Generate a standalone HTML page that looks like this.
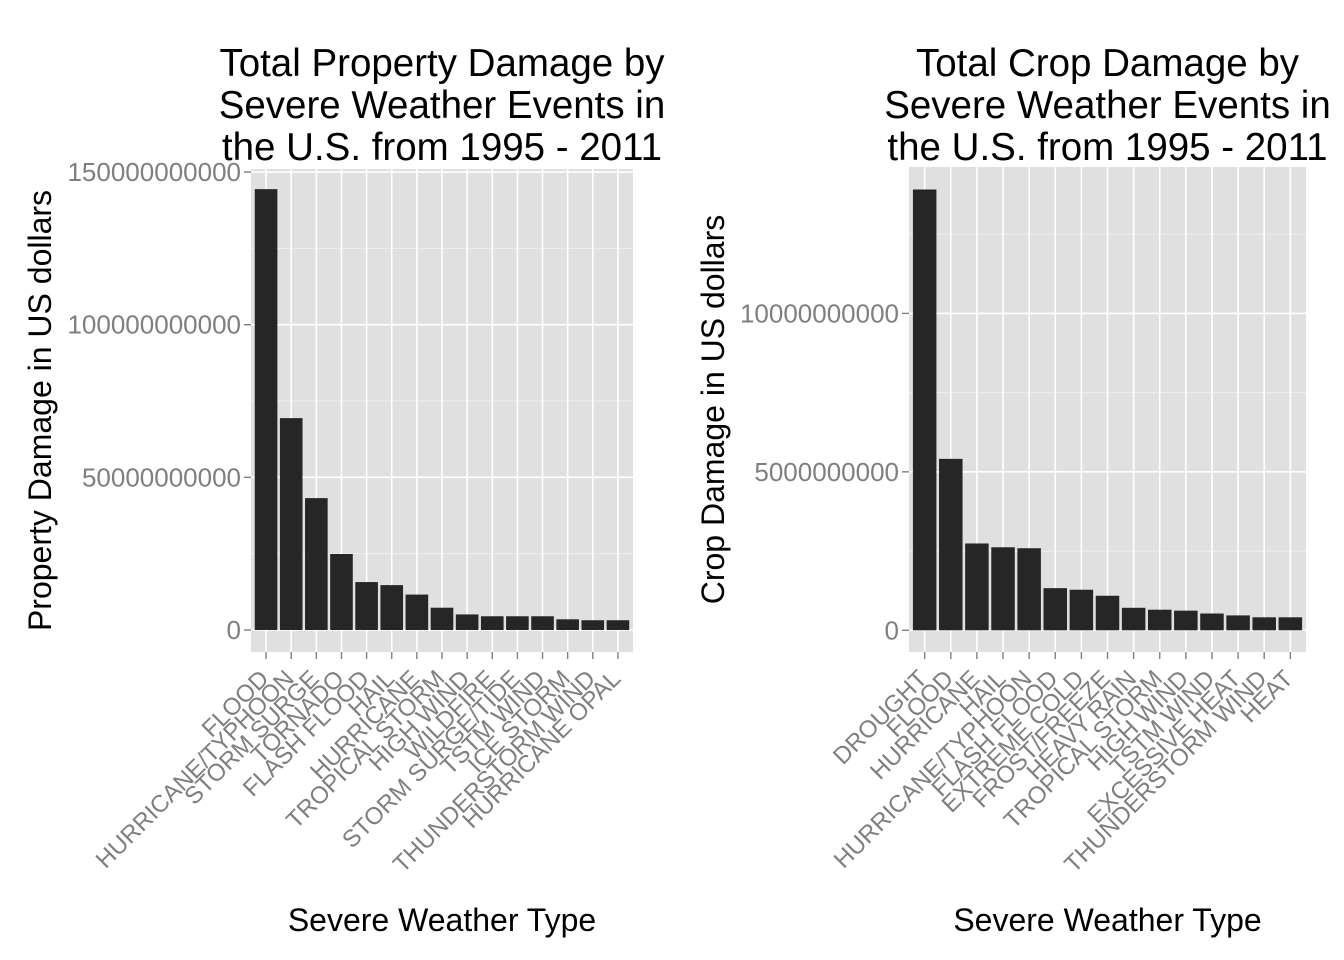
<!DOCTYPE html>
<html><head><meta charset="utf-8"><style>
html,body{margin:0;padding:0;background:#fff;}
svg{display:block;font-family:"Liberation Sans",Arial,sans-serif;}
</style></head><body>
<svg id="chart" width="1344" height="960" viewBox="0 0 1344 960"></svg>
<script>
const propCategories = ["FLOOD","HURRICANE/TYPHOON","STORM SURGE","TORNADO","FLASH FLOOD","HAIL","HURRICANE","TROPICAL STORM","HIGH WIND","WILDFIRE","STORM SURGE/TIDE","TSTM WIND","ICE STORM","THUNDERSTORM WIND","HURRICANE OPAL"];
const propValues = [144.4e9,69.4e9,43.2e9,24.9e9,15.7e9,14.7e9,11.6e9,7.3e9,5.1e9,4.5e9,4.5e9,4.5e9,3.5e9,3.2e9,3.2e9];
const propTicks = [0,50e9,100e9,150e9];
const propTickLabels = ["0","50000000000","100000000000","150000000000"];
const cropCategories = ["DROUGHT","FLOOD","HURRICANE","HAIL","HURRICANE/TYPHOON","FLASH FLOOD","EXTREME COLD","FROST/FREEZE","HEAVY RAIN","TROPICAL STORM","HIGH WIND","TSTM WIND","EXCESSIVE HEAT","THUNDERSTORM WIND","HEAT"];
const cropValues = [13.91e9,5.41e9,2.74e9,2.62e9,2.59e9,1.33e9,1.28e9,1.09e9,0.71e9,0.65e9,0.62e9,0.53e9,0.47e9,0.41e9,0.41e9];
const cropTicks = [0,5e9,10e9];
const cropTickLabels = ["0","5000000000","10000000000"];

const NS="http://www.w3.org/2000/svg";
const svg=document.getElementById('chart');
function mk(tag,attrs,parent){const e=document.createElementNS(NS,tag);for(const k in attrs)e.setAttribute(k,attrs[k]);(parent||svg).appendChild(e);return e;}

function panel(o){
  const g=mk('g',{});
  
  
  const n=o.cats.length;
  const step=(o.x1-o.x0)/(n-1+1.2);
  const xc=i=>o.x0+step*(0.6+i);
  const y=v=>o.yZero-(v/o.yMax)*(o.yZero-o.y0);
  const bg=mk('rect',{x:o.x0,y:o.y0,width:o.x1-o.x0,height:o.yB-o.y0,fill:'#e0e0e0'},g);
  
  
  for(let k=0;k<o.ticks.length;k++){
    const mv=o.ticks[k]+o.tickStep/2;
    if(y(mv)>o.y0) mk('line',{x1:o.x0,x2:o.x1,y1:y(mv),y2:y(mv),stroke:'#f0f0f0','stroke-width':1},g);
  }
  o.ticks.forEach((t,i)=>{
    mk('line',{x1:o.x0,x2:o.x1,y1:y(t),y2:y(t),stroke:'#fff','stroke-width':1.6},g);
    mk('line',{x1:o.x0-7,x2:o.x0,y1:y(t),y2:y(t),stroke:'#7f7f7f','stroke-width':1.4},g);
    const tx=mk('text',{x:o.x0-10,y:y(t)+9,'text-anchor':'end','font-size':26,fill:'#7f7f7f'},g);
    tx.textContent=o.tickLabels[i];
    
    
  });
  o.cats.forEach((c,i)=>{
    mk('line',{x1:xc(i),x2:xc(i),y1:o.y0,y2:o.yB,stroke:'#fff','stroke-width':1.6},g);
  });
  const bw=step*0.9;
  o.cats.forEach((c,i)=>{
    const b=mk('rect',{x:xc(i)-bw/2,y:y(o.vals[i]),width:bw,height:y(0)-y(o.vals[i]),fill:'#262626'},g);
    
    
    mk('line',{x1:xc(i),x2:xc(i),y1:o.yB,y2:o.yB+7,stroke:'#7f7f7f','stroke-width':1.4},g);
    const t=mk('text',{x:0,y:0,'text-anchor':'end','font-size':24,fill:'#7f7f7f',transform:`translate(${xc(i)+4},${o.yB+28}) rotate(-45)`},g);
    t.textContent=c;
    
    
  });
  const cx=(o.x0+o.x1)/2;
  o.title.forEach((l,i)=>{
    const t=mk('text',{x:cx,y:76+i*42,'text-anchor':'middle','font-size':38.5,fill:'#000'},g);
    t.textContent=l;
    
    
  });
  const xt=mk('text',{x:cx,y:931,'text-anchor':'middle','font-size':32,fill:'#000'},g);
  xt.textContent='Severe Weather Type';
  
  
  const yt=mk('text',{x:0,y:0,'text-anchor':'middle','font-size':32,fill:'#000',transform:`translate(${o.ytX},${(o.y0+o.yB)/2}) rotate(-90)`},g);
  yt.textContent=o.ytitle;
  
  
}
panel({name:'property-damage-panel',cats:propCategories,vals:propValues,ticks:propTicks,tickLabels:propTickLabels,tickStep:50e9,
  x0:251,x1:633,y0:169,yB:652,yZero:630,yMax:151e9,title:['Total Property Damage by','Severe Weather Events in','the U.S. from 1995 - 2011'],ytitle:'Property Damage in US dollars',ytX:51});
panel({name:'crop-damage-panel',cats:cropCategories,vals:cropValues,ticks:cropTicks,tickLabels:cropTickLabels,tickStep:5e9,
  x0:909,x1:1306,y0:167,yB:652,yZero:630.3,yMax:14.62e9,title:['Total Crop Damage by','Severe Weather Events in','the U.S. from 1995 - 2011'],ytitle:'Crop Damage in US dollars',ytX:724});
</script>
</body></html>
